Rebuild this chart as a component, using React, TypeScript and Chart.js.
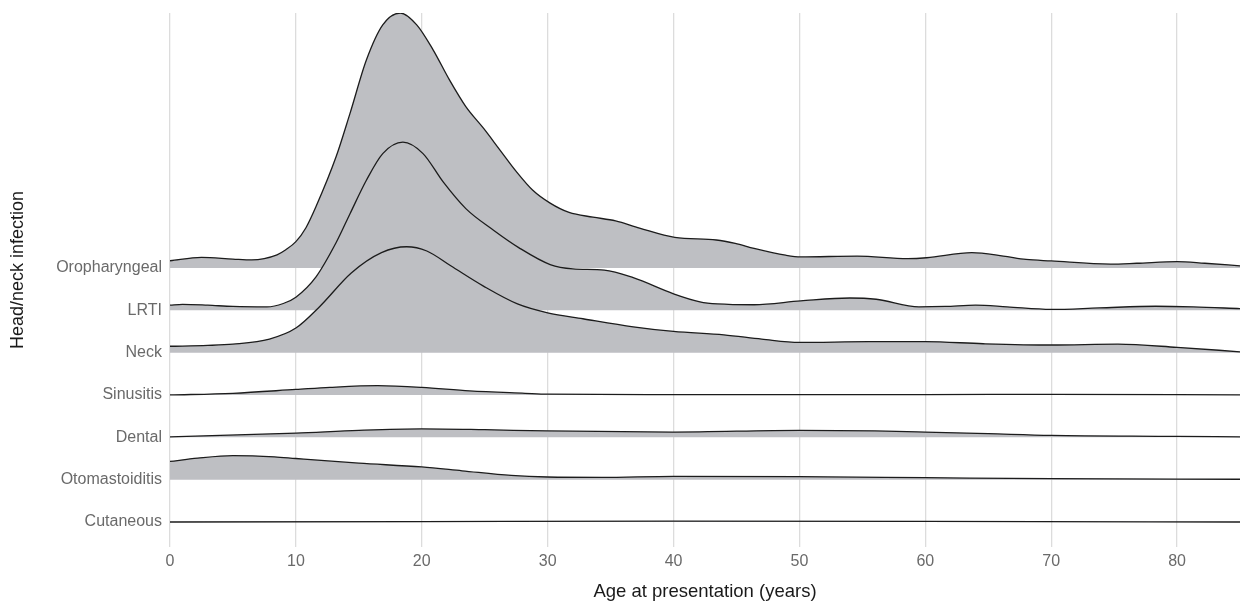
import React, { useEffect, useRef } from "react";
import { Chart, registerables } from "chart.js";
Chart.register(...registerables);

// Categories from bottom (1) to top (7)
const categories = [
  "Cutaneous",
  "Otomastoiditis",
  "Dental",
  "Sinusitis",
  "Neck",
  "LRTI",
  "Oropharyngeal",
];

const xTicks = [0, 10, 20, 30, 40, 50, 60, 70, 80];

// Age (years) sample points and ridge heights (density, in row units)
const oroAges = [0, 2.5, 5, 6.5, 8.5, 9.2, 10, 10.8, 11.6, 13.2, 14.3, 15.6, 16.9, 18.3, 19.6, 20.9, 22.2, 23.5, 24.9, 26.2, 27.5, 28.8, 30.2, 31.7, 33.6, 35.4, 37.3, 40.1, 43.4, 44.9, 46.4, 48.9, 50.1, 54.6, 58.6, 60.1, 63.7, 66.2, 68, 70, 74.7, 76.8, 80, 82.2, 85];
const oroDensity = [0.17, 0.25, 0.21, 0.19, 0.31, 0.43, 0.62, 0.95, 1.45, 2.63, 3.65, 4.91, 5.74, 6.02, 5.74, 5.15, 4.44, 3.81, 3.3, 2.79, 2.28, 1.84, 1.53, 1.31, 1.2, 1.11, 0.94, 0.72, 0.66, 0.58, 0.46, 0.3, 0.26, 0.28, 0.22, 0.24, 0.36, 0.28, 0.2, 0.165, 0.09, 0.11, 0.15, 0.11, 0.05];

const lrtiAges = [0, 1, 3, 5, 7.7, 9, 10, 11.6, 13.2, 14.3, 15.6, 16.9, 18.5, 20.1, 21.7, 23.5, 25.7, 27.7, 30.2, 32, 34.5, 36.8, 40, 42.1, 43.5, 46.4, 50.1, 54, 56.1, 59.5, 61.6, 64, 66.5, 70, 73.8, 78.3, 81.3, 85];
const lrtiDensity = [0.12, 0.14, 0.12, 0.09, 0.08, 0.16, 0.31, 0.79, 1.6, 2.28, 3.07, 3.7, 3.97, 3.7, 3.03, 2.4, 1.89, 1.48, 1.08, 0.98, 0.95, 0.77, 0.39, 0.2, 0.15, 0.13, 0.22, 0.29, 0.26, 0.08, 0.09, 0.12, 0.08, 0.02, 0.055, 0.095, 0.08, 0.04];

const neckAges = [0, 3, 5, 7.9, 10, 11.9, 14.4, 16.8, 18.8, 20.4, 22.3, 24.9, 27.6, 30, 32.8, 36.8, 40, 44, 47, 50, 55.5, 60, 64.6, 70, 75.3, 80, 85];
const neckDensity = [0.15, 0.17, 0.2, 0.32, 0.58, 1.09, 1.88, 2.36, 2.5, 2.4, 2.05, 1.57, 1.15, 0.94, 0.8, 0.61, 0.5, 0.42, 0.32, 0.24, 0.26, 0.26, 0.21, 0.18, 0.2, 0.125, 0.02];

const sinusAges = [0, 5, 10, 12.7, 16.5, 20, 23.8, 28.2, 30, 40, 60, 70, 85];
const sinusDensity = [0.0, 0.04, 0.13, 0.18, 0.22, 0.18, 0.095, 0.04, 0.02, 0.01, 0.01, 0.015, 0.0];

const dentalAges = [0, 10, 15, 20, 25, 30, 40, 50, 56, 60, 65, 70, 80, 85];
const dentalDensity = [0.01, 0.1, 0.165, 0.2, 0.18, 0.15, 0.125, 0.165, 0.15, 0.125, 0.087, 0.047, 0.024, 0.01];

const otoAges = [0, 2.2, 5, 8.3, 10, 15, 20, 23.2, 27.1, 30, 34.3, 40, 50, 60, 70, 85];
const otoDensity = [0.43, 0.51, 0.57, 0.54, 0.5, 0.39, 0.3, 0.21, 0.1, 0.063, 0.055, 0.08, 0.07, 0.047, 0.024, 0.01];

const cutAges = [0, 20, 40, 60, 85];
const cutDensity = [0.0, 0.01, 0.02, 0.015, 0.0];

const seriesAges = [cutAges, otoAges, dentalAges, sinusAges, neckAges, lrtiAges, oroAges];
const seriesDensity = [cutDensity, otoDensity, dentalDensity, sinusDensity, neckDensity, lrtiDensity, oroDensity];

const xTitle = "Age at presentation (years)";
const yTitle = "Head/neck infection";

const FONT = "'Liberation Sans', Arial, Helvetica, sans-serif";

const yTitlePlugin = {
  id: "yTitlePlugin",
  afterDraw(chart: any) {
    const ctx = chart.ctx;
    ctx.save();
    ctx.translate(18.5, 270);
    ctx.rotate(-Math.PI / 2);
    ctx.textAlign = "center";
    ctx.textBaseline = "middle";
    ctx.fillStyle = "#1a1a1a";
    ctx.font = `18px ${FONT}`;
    ctx.fillText(yTitle, 0, 0);
    ctx.restore();
  },
};

export default function App() {
  const canvasRef = useRef<HTMLCanvasElement | null>(null);

  useEffect(() => {
    document.body.style.margin = "0";
    const canvas = canvasRef.current;
    if (!canvas) return;

    const datasets = categories.map((name, i) => {
      const base = i + 1;
      const ages = seriesAges[i];
      const dens = seriesDensity[i];
      return {
        label: name,
        data: ages.map((a, k) => ({ x: a, y: base + dens[k] })),
        borderColor: "#1c1c1c",
        borderWidth: 1.3,
        backgroundColor: "#BEBFC3",
        fill: { value: base },
        pointRadius: 0,
        cubicInterpolationMode: "monotone" as const,
        order: base,
      };
    });

    const chart = new Chart(canvas, {
      type: "line",
      data: { datasets },
      plugins: [yTitlePlugin],
      options: {
        animation: false,
        responsive: false,
        layout: { padding: { top: 13, left: 0, right: 0, bottom: 0 } },
        plugins: {
          legend: { display: false },
          tooltip: { enabled: false },
        },
        scales: {
          x: {
            type: "linear",
            min: 0,
            max: 85,
            afterBuildTicks: (s: any) => {
              s.ticks = xTicks.map((v) => ({ value: v }));
            },
            afterFit: (s: any) => {
              s.height = 56;
            },
            grid: { color: "#DCDCDC", lineWidth: 1.3, drawTicks: false },
            border: { display: false },
            ticks: {
              padding: 5,
              color: "#6a6a6a",
              font: { family: FONT, size: 16 },
              maxRotation: 0,
              autoSkip: false,
            },
            title: {
              display: true,
              text: xTitle,
              color: "#1a1a1a",
              font: { family: FONT, size: 18.5 },
              padding: { top: 0, bottom: 0 },
            },
          },
          y: {
            type: "linear",
            min: 0.41,
            max: 13.02,
            afterBuildTicks: (s: any) => {
              s.ticks = categories.map((_, i) => ({ value: i + 1 }));
            },
            afterFit: (s: any) => {
              s.width = 170;
              s.paddingTop = 0;
              s.paddingBottom = 0;
            },
            grid: { display: false, drawTicks: false },
            border: { display: false },
            ticks: {
              padding: 8,
              color: "#6a6a6a",
              font: { family: FONT, size: 16 },
              autoSkip: false,
              callback: (v: any) => categories[Math.round(Number(v)) - 1] ?? "",
            },
          },
        },
      },
    });

    return () => chart.destroy();
  }, []);

  return (
    <div style={{ position: "absolute", left: 0, top: 0, width: 1240, height: 603, background: "#ffffff" }}>
      <canvas ref={canvasRef} width={1240} height={603} style={{ display: "block", width: 1240, height: 603 }} />
    </div>
  );
}
